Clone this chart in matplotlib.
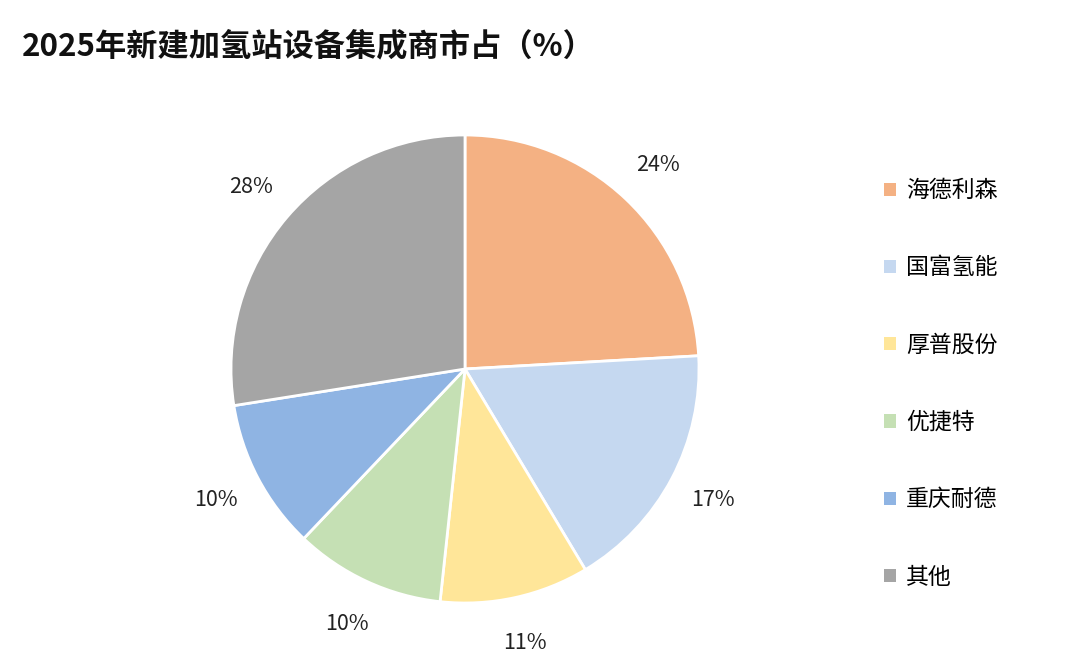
import matplotlib
matplotlib.use("Agg")
import matplotlib.pyplot as plt
from matplotlib.patches import Patch

plt.rcParams['font.family'] = ['Noto Sans CJK SC', 'DejaVu Sans']

categories = ['海德利森', '国富氢能', '厚普股份', '优捷特', '重庆耐德', '其他']
# wedge sizes as drawn in the picture
values = [24.1, 17.3, 10.3, 10.4, 10.4, 27.5]
# data labels as printed in the picture
pct_labels = ['24%', '17%', '11%', '10%', '10%', '28%']
colors = ['#F4B183', '#C5D8F0', '#FFE699', '#C5E0B4', '#8FB4E3', '#A5A5A5']
title = '2025年新建加氢站设备集成商市占（%）'

fig = plt.figure(figsize=(10.8, 6.62), dpi=100)
ax = fig.add_axes([0, 0, 1, 1])
ax.set_xlim(0, 1080)
ax.set_ylim(662, 0)
ax.axis('off')

R = 234
pax = fig.add_axes([(465 - R) / 1080, 1 - (369 + R) / 662, 2 * R / 1080, 2 * R / 662])
wedges, texts = pax.pie(
    values, colors=colors, startangle=90, counterclock=False,
    labels=pct_labels, labeldistance=1.2, radius=1,
    wedgeprops=dict(edgecolor='white', linewidth=2),
    textprops=dict(fontsize=15.5, color='#222222'))
for t in texts:
    t.set_ha('center')
    t.set_va('center')
pax.set_xlim(-1, 1)
pax.set_ylim(-1, 1)
pax.set_aspect('equal')
pax.axis('off')

fig.text(22 / 1080, 1 - 46 / 662, title, fontsize=22.5, fontweight='bold',
         va='center', ha='left', color='#111111')

handles = [Patch(facecolor=c, edgecolor='none') for c in colors]
fig.legend(handles, categories, loc='upper left',
           bbox_to_anchor=(875 / 1080, 1 - 170 / 662), frameon=False,
           fontsize=16.5, handlelength=0.5, handleheight=0.5, handletextpad=0.45,
           labelspacing=2.37, borderaxespad=0)

fig.savefig('out.png', dpi=100)
